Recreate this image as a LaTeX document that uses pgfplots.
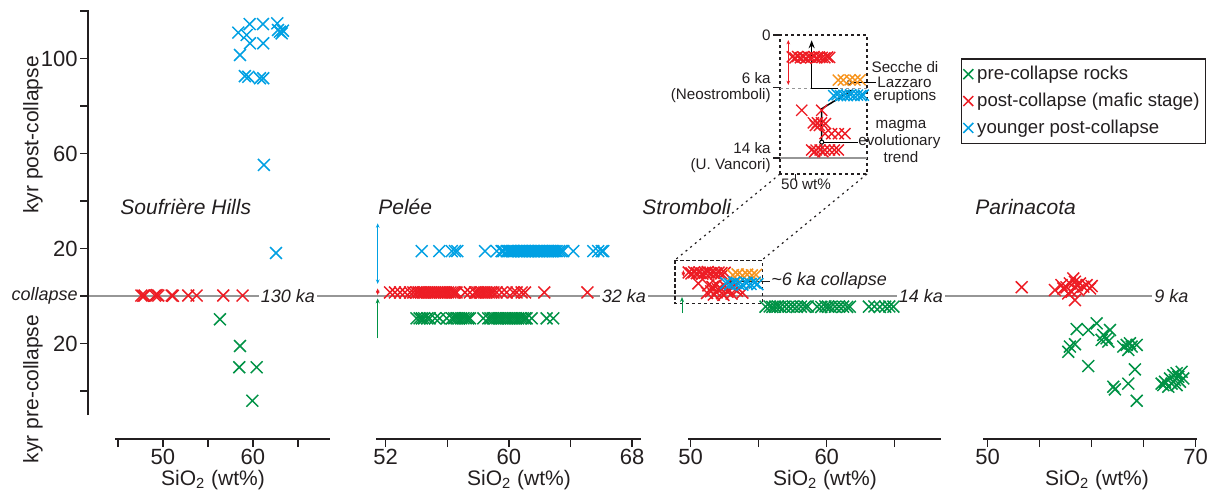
\documentclass[border=0pt]{standalone}
\usepackage{pgfplots}
\pgfplotsset{compat=1.18}
\usepackage{fontspec}
\setmainfont{Liberation Sans}
\usetikzlibrary{arrows.meta}

\definecolor{cpre}{RGB}{0,146,69}
\definecolor{cpost}{RGB}{237,28,36}
\definecolor{cyoung}{RGB}{0,160,227}
\definecolor{corng}{RGB}{247,148,29}
\definecolor{ink}{RGB}{35,31,32}
\definecolor{cline}{RGB}{150,150,150}

\pgfplotsset{
  panel/.style={scale only axis, height=214.5pt, ymin=-60.21, ymax=120.42,
    anchor=south west, clip=false,
    axis x line=bottom, axis y line=none,
    axis line style={-, line width=0.65pt, draw=ink},
    tick align=outside, major tick length=4pt,
    tick style={line width=0.65pt, draw=ink},
    xticklabel style={font=\fontsize{11}{13}\selectfont, text=ink, inner sep=1pt}},
  pts/.style={only marks, mark=x, mark size=4.2pt, line width=0.75pt},
  ipts/.style={only marks, mark=x, mark size=3.9pt, line width=0.7pt},
}
\tikzset{
  sarr/.style={line width=0.5pt, {Stealth[length=2.2pt,width=1.8pt]}-{Stealth[length=2.2pt,width=1.8pt]}},
  uarr/.style={line width=0.5pt, -{Stealth[length=2.5pt,width=2pt]}},
}

\begin{document}
\begin{tikzpicture}
% frame, shared collapse line and labels (behind the data)
\begin{scope}[x=0.5pt, y=-0.5pt]
\path (0,0) rectangle (1222,499);
\draw[cline, line width=0.65pt] (88,296) -- (1152,296);
\begin{scope}[every node/.style={font=\fontsize{9}{11}\selectfont\itshape, text=ink, fill=white, inner xsep=1pt, inner ysep=1pt}]
\node at (288,296) {130 ka};
\node at (624,296) {32 ka};
\node at (921,296) {14 ka};
\node[anchor=west, fill=none] at (1152,296) {9 ka};
\end{scope}
\end{scope}

% shared time axis
\begin{axis}[scale only axis, width=1pt, height=202.5pt, at={(44pt,-207.5pt)}, anchor=south west,
  xmin=0, xmax=1, ymin=-50.1, ymax=120.42,
  axis y line=left, axis x line=none,
  axis line style={-, line width=0.65pt, draw=ink},
  tick align=outside, major tick length=4pt,
  tick style={line width=0.65pt, draw=ink},
  ytick={-40,-20,0,20,40,60,80,100,120},
  yticklabels={,20,{\fontsize{9}{11}\selectfont\itshape collapse},20,,60,,100,},
  yticklabel style={font=\fontsize{11}{13}\selectfont, text=ink, inner xsep=1pt}]
\addplot[draw=none] coordinates {(0,0)};
\end{axis}

% Soufriere Hills
\begin{axis}[panel, at={(57.5pt,-219.5pt)}, width=107.5pt, xmin=44.67, xmax=68.56,
  xtick={45,50,55,60,65}, xticklabels={,50,,60,}]
\addplot[pts, cyoung] coordinates {
 (59.63,114.5) (61.11,114.5) (62.7,114.8) (58.37,110.9) (59.3,109.9) (62.78,112.0)
 (63.0,111.3) (63.19,110.6) (63.33,111.7) (59.67,106.4) (61.14,106.4) (58.56,101.5)
 (59.48,92.3) (59.1,92.6) (60.78,91.7) (61.14,91.7) (61.22,55.2) (62.56,18.1)};
\addplot[pts, cpost] coordinates {
 (47.6,0.2) (47.8,0.1) (47.96,0.2) (49.1,0.2) (49.3,0.4) (49.48,0.2) (50.97,0.2)
 (51.1,0.1) (52.81,0.2) (53.74,0.2) (56.7,0.2) (58.85,0.2)};
\addplot[pts, cpre] coordinates {
 (56.33,-9.8) (58.56,-21.05) (58.48,-30.0) (60.41,-30.0) (59.93,-44.1)};
\end{axis}

% Pelee
\begin{axis}[panel, at={(188pt,-219.5pt)}, width=132.5pt, xmin=51.37, xmax=68.58,
  xtick={52,56,60,64,68}, xticklabels={52,,60,,68}]
\addplot[pts, cyoung] coordinates {
 (54.34,18.9) (55.48,18.9) (56.29,18.9) (56.5,18.9) (56.65,18.9) (58.45,18.9) (59.21,18.9)
 (59.53,18.9) (59.64,18.9) (59.86,18.9) (59.97,18.9) (60.06,18.9) (60.18,18.9) (60.27,18.9)
 (60.36,18.9) (60.48,18.9) (60.57,18.9) (60.66,18.9) (60.78,18.9) (60.86,18.9) (60.97,18.9)
 (61.05,18.9) (61.16,18.9) (61.26,18.9) (61.35,18.9) (61.46,18.9) (61.57,18.9) (61.65,18.9)
 (61.76,18.9) (61.86,18.9) (61.95,18.9) (62.06,18.9) (62.17,18.9) (62.25,18.9) (62.36,18.9)
 (62.46,18.9) (62.55,18.9) (62.66,18.9) (62.77,18.9) (62.86,18.9) (62.97,18.9) (63.1,18.9)
 (63.26,18.9) (63.4,18.9) (63.53,18.9) (64.18,18.9) (65.48,18.9) (65.8,18.9) (66.03,18.9)
 (66.13,18.9)};
\addplot[pts, cpost] coordinates {
 (52.28,1.5) (52.6,1.5) (52.93,1.5) (53.25,1.5) (53.58,1.5) (53.79,1.5) (54.0,1.5)
 (54.14,1.5) (54.3,1.5) (54.42,1.5) (54.56,1.5) (54.7,1.5) (54.83,1.5) (54.95,1.5)
 (55.1,1.5) (55.22,1.5) (55.36,1.5) (55.5,1.5) (55.62,1.5) (55.76,1.5) (55.9,1.5)
 (56.04,1.5) (56.2,1.5) (56.35,1.5) (56.48,1.5) (56.6,1.5) (57.15,1.5) (57.47,1.5)
 (57.8,1.5) (57.95,1.5) (58.1,1.5) (58.24,1.5) (58.4,1.5) (58.55,1.5) (58.7,1.5)
 (58.86,1.5) (59.0,1.5) (59.2,1.5) (59.53,1.5) (59.86,1.5) (60.29,1.5) (60.5,1.5)
 (60.83,1.5) (61.05,1.5) (62.3,1.5) (65.1,1.5)};
\addplot[pts, cpre] coordinates {
 (54.0,-9.4) (54.2,-9.4) (54.35,-9.4) (54.5,-9.4) (54.7,-9.4) (54.86,-9.4) (55.2,-9.4)
 (55.5,-9.4) (55.96,-9.4) (56.3,-9.4) (56.45,-9.4) (56.6,-9.4) (56.75,-9.4) (56.9,-9.4)
 (57.05,-9.4) (57.2,-9.4) (57.35,-9.4) (57.47,-9.4) (58.34,-9.4) (58.66,-9.4) (58.8,-9.4)
 (58.95,-9.4) (59.1,-9.4) (59.25,-9.4) (59.4,-9.4) (59.55,-9.4) (59.7,-9.4) (59.85,-9.4)
 (60.0,-9.4) (60.15,-9.4) (60.3,-9.4) (60.45,-9.4) (60.6,-9.4) (60.75,-9.4) (60.9,-9.4)
 (61.05,-9.4) (61.15,-9.4) (61.48,-9.4) (62.45,-9.4) (62.88,-9.4)};
\draw[cyoung, sarr] (axis cs:51.48,30.6) -- (axis cs:51.48,5.1);
\draw[cpost, sarr] (axis cs:51.48,3.2) -- (axis cs:51.48,0.4);
\draw[cpre, uarr] (axis cs:51.48,-17.8) -- (axis cs:51.48,-1.0);
\end{axis}

% Stromboli
\begin{axis}[panel, at={(344pt,-219.5pt)}, width=126.5pt, xmin=49.80, xmax=68.40,
  xtick={50,55,60,65}, xticklabels={50,,60,}]
\addplot[pts, cpost] coordinates {
 (49.85,9.9) (50.05,9.5) (50.25,10.0) (50.45,9.6) (50.65,9.9) (50.85,9.4) (51.05,9.8)
 (51.25,10.1) (51.45,9.6) (51.65,9.8) (51.85,9.5) (52.05,9.9) (52.25,9.6) (52.5,9.8)
 (50.56,5.3) (51.3,4.5) (51.6,3.8) (51.9,4.8) (52.2,3.2) (52.5,4.2) (52.8,2.5) (51.5,2.0)
 (51.9,1.5) (52.3,1.2) (52.7,1.8) (53.1,3.6) (53.4,2.2) (53.8,1.4) (51.2,1.3) (52.0,2.8)
 (53.0,1.0) (52.4,0.5) (51.7,0.6)};
\addplot[pts, corng] coordinates {
 (53.1,8.8) (53.45,9.1) (53.8,8.6) (54.15,9.0) (54.5,8.7) (54.8,8.9)};
\addplot[pts, cyoung] coordinates {
 (52.6,5.4) (52.9,5.0) (53.2,5.7) (53.5,5.2) (53.8,4.8) (54.1,5.5) (54.4,5.1) (54.7,5.6)
 (54.9,5.0)};
\addplot[pts, cpre] coordinates {
 (55.5,-4.5) (55.8,-4.4) (56.0,-4.6) (56.2,-4.5) (56.4,-4.4) (56.6,-4.6) (56.9,-4.5)
 (57.2,-4.5) (57.5,-4.4) (57.8,-4.6) (58.1,-4.5) (58.4,-4.5) (58.6,-4.4)
 (59.3,-4.5) (59.6,-4.6) (59.9,-4.4) (60.1,-4.5) (60.3,-4.6) (60.6,-4.5) (60.9,-4.4)
 (61.2,-4.5) (61.5,-4.6) (61.7,-4.5)
 (63.1,-4.5) (63.5,-4.4) (63.9,-4.6) (64.3,-4.5) (64.6,-4.4) (64.9,-4.5)};
\draw[ink, line width=0.6pt, dash pattern=on 1.6pt off 1.4pt] (axis cs:48.85,15.0) rectangle (axis cs:55.25,-3.2);
\draw[cpost, sarr] (axis cs:49.46,10.9) -- (axis cs:49.46,8.1);
\draw[cpre, uarr] (axis cs:49.36,-7.2) -- (axis cs:49.36,-0.4);
\draw[ink, line width=0.6pt, -{Stealth[length=3pt,width=2.6pt]}] (axis cs:55.82,6.0) -- (axis cs:52.65,6.0);
\end{axis}

% Parinacota
\begin{axis}[panel, at={(491.5pt,-219.5pt)}, width=107pt, xmin=49.55, xmax=70.13,
  xtick={50,55,60,65,70}, xticklabels={50,,,,70},
  legend style={at={(-0.104,0.8874)}, anchor=north west, draw=ink, line width=0.6pt,
    font=\fontsize{9.3}{11}\selectfont, text=ink, inner xsep=1pt, inner ysep=1.5pt,
    row sep=1.2pt, cells={anchor=west}},
  legend image code/.code={\draw[#1, mark size=3.5pt] plot coordinates {(0.2cm,0cm)};}]
\addlegendimage{only marks, mark=x, line width=0.75pt, cpre}
\addlegendentry{pre-collapse rocks}
\addlegendimage{only marks, mark=x, line width=0.75pt, cpost}
\addlegendentry{post-collapse (mafic stage)}
\addlegendimage{only marks, mark=x, line width=0.75pt, cyoung}
\addlegendentry{younger post-collapse}
\addplot[pts, cpost, forget plot] coordinates {
 (53.27,3.7) (56.47,2.5) (57.57,3.66) (57.9,5.3) (58.23,7.4) (58.39,6.0) (58.56,4.6)
 (58.88,5.3) (59.2,3.9) (59.52,4.6) (59.84,3.2) (60.0,4.2) (58.07,1.8) (58.39,-1.7)
 (57.75,1.1) (57.27,3.2) (58.71,2.5) (57.1,4.6)};
\addplot[pts, cpre, forget plot] coordinates {
 (58.56,-13.9) (59.68,-14.3) (60.48,-11.5) (61.12,-16.4) (61.76,-14.3) (60.96,-18.5)
 (61.44,-17.8) (61.6,-19.2) (57.91,-21.3) (58.39,-20.3) (57.75,-23.5) (59.67,-29.5)
 (63.04,-21.3) (63.37,-20.6) (63.52,-22.7) (63.85,-21.3) (64.33,-20.6) (63.68,-19.9)
 (64.16,-30.9) (63.52,-36.9) (62.08,-38.2) (62.24,-39.3) (64.33,-44.1)
 (66.73,-36.9) (67.05,-36.1) (67.37,-38.2) (67.53,-34.7) (67.85,-33.3) (68.01,-35.4)
 (68.17,-32.5) (68.33,-34.0) (68.49,-36.1) (68.65,-31.9) (68.81,-34.7) (66.89,-37.5)
 (67.69,-36.9) (68.17,-37.5)};
\end{axis}

% Stromboli inset (ka before present)
\begin{axis}[scale only axis, at={(390pt,-87pt)}, anchor=south west, width=43.5pt, height=69.5pt,
  xmin=48.85, xmax=55.25, ymin=-15.83, ymax=0, clip=false,
  axis line style={ink, line width=0.6pt, dash pattern=on 1.6pt off 1.4pt},
  ytick={-14,-6,0}, yticklabels={{14 ka\\(U. Vancori)},{6 ka\\(Neostromboli)},0},
  xtick={50}, xticklabels={},
  ytick pos=left, xtick pos=bottom, tick align=outside, major tick length=3.5pt,
  tick style={ink, line width=0.6pt, solid},
  yticklabel style={font=\fontsize{7.6}{8}\selectfont, text=ink, align=right, inner xsep=1pt}]
\addplot[ipts, cpost] coordinates {
 (49.75,-2.5) (49.95,-2.6) (50.15,-2.45) (50.35,-2.6) (50.55,-2.5) (50.75,-2.65) (50.95,-2.5)
 (51.15,-2.55) (51.35,-2.45) (51.55,-2.6) (51.75,-2.5) (51.95,-2.55) (52.15,-2.6) (52.35,-2.5)
 (52.5,-2.55)
 (50.45,-8.57) (51.92,-8.57) (51.3,-10.0) (51.6,-10.0) (51.9,-10.0) (52.2,-10.1) (51.45,-10.3)
 (51.75,-10.3) (52.16,-11.24) (52.65,-11.24) (53.14,-11.24) (53.63,-11.24) (51.18,-13.1)
 (51.5,-13.1) (51.8,-13.1) (52.15,-13.1) (52.5,-13.1) (52.85,-13.1) (53.14,-13.1) (51.4,-13.3)
 (52.0,-13.3)};
\addplot[ipts, corng] coordinates {
 (53.14,-5.14) (53.51,-5.14) (54.0,-5.1) (54.37,-5.14) (54.74,-5.1)};
\addplot[ipts, cyoung] coordinates {
 (52.8,-6.9) (53.05,-6.8) (53.3,-6.9) (53.55,-6.85) (53.8,-6.9) (54.05,-6.8) (54.3,-6.9)
 (54.55,-6.85) (54.8,-6.9) (54.98,-6.85)};
\draw[cline, line width=0.5pt, dash pattern=on 1.5pt off 1.5pt] (axis cs:48.85,-6.1) -- (axis cs:55.25,-6.1);
\draw[cline, line width=0.65pt] (axis cs:48.85,-14) -- (axis cs:55.25,-14);
\draw[cpost, sarr] (axis cs:49.46,-0.57) -- (axis cs:49.46,-5.7);
\draw[black, line width=0.75pt, -{Stealth[length=4pt,width=3pt]}] (axis cs:53.1,-6.1) -- (axis cs:51.18,-6.1) -- (axis cs:51.18,-0.6);
\draw[black, line width=0.75pt, -{Stealth[length=4pt,width=3pt]}] (axis cs:51.92,-13.6) -- (axis cs:51.92,-8.4) -- (axis cs:54.24,-6.2);
\draw[black, line width=0.5pt] (axis cs:51.92,-12.2) -- (axis cs:54.6,-12.2);
\draw[black, line width=0.5pt, fill=white] (axis cs:51.92,-12.2) circle[radius=1pt];
\draw[black, line width=0.5pt] (axis cs:53.95,-5.4) -- (axis cs:55.9,-5.4);
\draw[black, line width=0.5pt, fill=white] (axis cs:53.95,-5.4) circle[radius=1pt];
\end{axis}

% labels and zoom lines (front)
\begin{scope}[x=0.5pt, y=-0.5pt]
\draw[ink, line width=0.6pt, dash pattern=on 1pt off 2pt] (780,174) -- (675,260);
\draw[ink, line width=0.6pt, dash pattern=on 1pt off 2pt] (867,174) -- (762,260);
\begin{scope}[every node/.style={font=\fontsize{10.5}{12}\selectfont, text=ink, inner sep=0pt}]
\node[rotate=90] at (33,135) {kyr post-collapse};
\node[rotate=90] at (33,389) {kyr pre-collapse};
\node at (213,480) {SiO\textsubscript{2} (wt\%)};
\node at (519,480) {SiO\textsubscript{2} (wt\%)};
\node at (825,480) {SiO\textsubscript{2} (wt\%)};
\node at (1097,480) {SiO\textsubscript{2} (wt\%)};
\node[anchor=west, font=\fontsize{10.5}{12}\selectfont\itshape] at (120,207) {Soufrière Hills};
\node[anchor=west, font=\fontsize{10.5}{12}\selectfont\itshape] at (378,207) {Pelée};
\node[anchor=west, font=\fontsize{10.5}{12}\selectfont\itshape] at (642,207) {Stromboli};
\node[anchor=west, font=\fontsize{10.5}{12}\selectfont\itshape] at (975,207) {Parinacota};
\node[anchor=west, font=\fontsize{9}{11}\selectfont\itshape] at (771,281) {\textasciitilde 6 ka collapse};
\end{scope}
\begin{scope}[every node/.style={font=\fontsize{7.6}{8}\selectfont, text=ink, inner sep=0pt}]
\node at (905,67) {Secche di};
\node[anchor=west] at (877,82) {Lazzaro};
\node at (905,97) {eruptions};
\node at (901,126) {magma};
\node[anchor=west] at (858,142) {evolutionary};
\node at (901,157) {trend};
\node at (806,184) {50 wt\%};
\end{scope}
\end{scope}
\end{tikzpicture}
\end{document}
